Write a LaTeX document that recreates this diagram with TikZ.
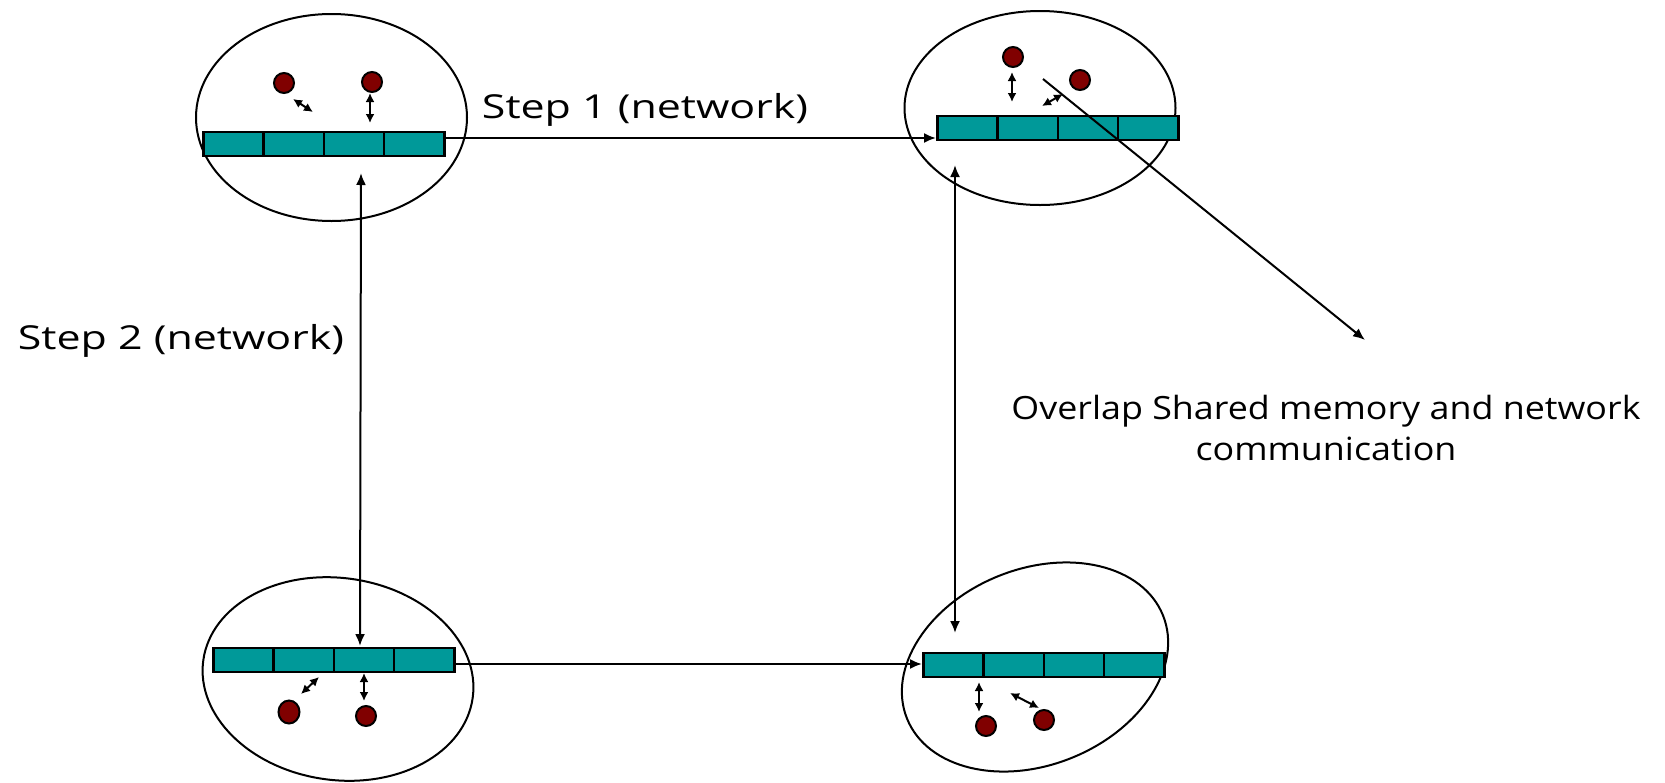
\documentclass[tikz,border=0pt]{standalone}
\usepackage{fontspec}
\setmainfont{Open Sans}[FakeStretch=1.3]
\newfontfamily\notefont{Open Sans}[FakeStretch=1.12]
\usetikzlibrary{arrows.meta,shapes.geometric}
\definecolor{cellteal}{RGB}{0,153,153}
\definecolor{procred}{RGB}{128,0,0}
\tikzset{
  smpnode/.style={draw, ellipse, line width=2pt, inner sep=0pt},
  cell/.style={draw, fill=cellteal, line width=2.5pt, minimum width=60.25pt,
    minimum height=24pt, inner sep=0pt, anchor=west},
  proc/.style={draw, circle, fill=procred, line width=2pt, minimum size=20pt, inner sep=0pt},
  link/.style={line width=2pt, -{Latex[length=12pt,width=10pt]}},
  twoway/.style={line width=2pt, {Latex[length=12pt,width=10pt]}-{Latex[length=12pt,width=10pt]}},
  localcopy/.style={line width=2pt, {Latex[length=9pt,width=9pt]}-{Latex[length=9pt,width=9pt]}},
  steptext/.style={font=\fontsize{33}{40}\selectfont, inner sep=0pt},
  notetext/.style={font=\notefont\fontsize{32}{41}\selectfont, inner sep=0pt, align=center},
}
% a shared-memory buffer of four cells: name, left x, middle y
\newcommand\membar[3]{%
  \foreach \k in {1,...,4}{%
    \node[cell] (#1-\k) at ({#2+(\k-1)*60.25}, #3) {};
  }%
}
\begin{document}
\begin{tikzpicture}[x=1pt, y=-1pt]
\useasboundingbox (0,0) rectangle (1665,782);

% SMP nodes
\node[smpnode, minimum width=271pt, minimum height=207pt] (tl) at (331.5,117.5) {};
\node[smpnode, minimum width=271pt, minimum height=194pt] (tr) at (1040,108) {};
\node[smpnode, minimum width=272pt, minimum height=202pt, rotate=-8] (bl) at (338,679) {};
\node[smpnode, minimum width=276pt, minimum height=196pt, rotate=22] (br) at (1035,667) {};

% buffers
\membar{tlb}{202}{144}
\membar{trb}{936}{128}
\membar{blb}{212}{660}
\membar{brb}{922}{665}

% processes
\node[proc] (tlp1) at (284,83) {};
\node[proc] (tlp2) at (372,82) {};
\node[proc] (trp1) at (1013,57) {};
\node[proc] (trp2) at (1080,80) {};
\node[proc, minimum width=21pt, minimum height=23pt, ellipse] (blp1) at (289,712) {};
\node[proc] (blp2) at (366,716) {};
\node[proc] (brp1) at (986,726) {};
\node[proc] (brp2) at (1044,720) {};

% shared-memory copies between processes and buffers
\coordinate (a1) at (293,99);   \coordinate (a2) at (313,112);
\coordinate (b1) at (370,93);   \coordinate (b2) at (370,123);
\coordinate (c1) at (1012,72);  \coordinate (c2) at (1012,102);
\coordinate (d1) at (1042,106); \coordinate (d2) at (1063,94);
\coordinate (e1) at (301,694);  \coordinate (e2) at (319,677);
\coordinate (f1) at (364,673);  \coordinate (f2) at (364,701);
\coordinate (g1) at (979,682);  \coordinate (g2) at (979,712);
\coordinate (h1) at (1010,693); \coordinate (h2) at (1039,708);
\foreach \p in {a,b,c,d,e,f,g,h}{\draw[localcopy] (\p1) -- (\p2);}

% network steps
\draw[link] (tlb-4.east |- 0,138) -- (trb-1.west |- 0,138);
\draw[link] (blb-4.east |- 0,664) -- (brb-1.west |- 0,664);
\coordinate (lv1) at (361,173);
\coordinate (lv2) at (360,646);
\draw[twoway] (lv1) -- (lv2);
\coordinate (rv1) at (955,165);
\coordinate (rv2) at (955,633);
\draw[twoway] (rv1) -- (rv2);

% overlap pointer
\coordinate (ov1) at (1043,79);
\coordinate (ov2) at (1365,340);
\draw[link] (ov1) -- (ov2);

% labels
\node[steptext] (s1) at (645,110) {Step 1 (network)};
\node[steptext] (s2) at (181,341) {Step 2 (network)};
\node[notetext] (ov) at (1326,428) {Overlap Shared memory and network\\communication};
\end{tikzpicture}
\end{document}
